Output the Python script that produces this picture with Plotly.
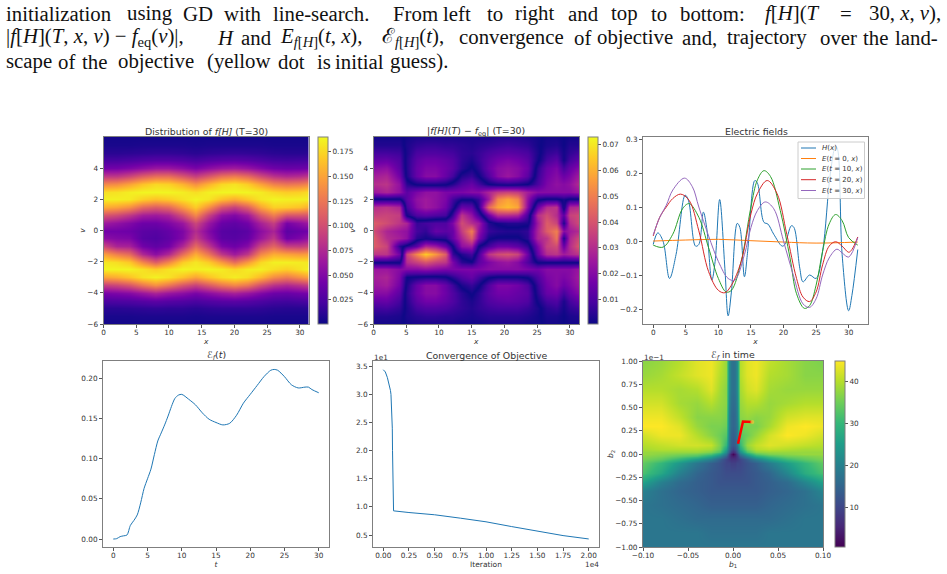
import numpy as np
import plotly.graph_objects as go

W, H = 947, 574
TEXT = "#333333"
SPINE = "#7f7f7f"
FONT = "DejaVu Sans"

# ---- distribution f[H] at T=30, in thousandths; rows run from v=6 down to v=-6
F_X = [0, 2, 4, 6, 8, 10, 12, 14, 16, 18, 20, 22, 24, 26, 28, 30, 31.4]
V_LEVELS = [6 - 0.5 * i for i in range(25)]
F_MILLI = [
    [3, 3, 3, 3, 3, 3, 3, 3, 3, 3, 3, 3, 3, 3, 3, 3, 3],
    [5, 5, 5, 6, 6, 6, 6, 5, 6, 6, 6, 6, 6, 5, 5, 5, 5],
    [11, 11, 12, 13, 14, 14, 13, 11, 13, 14, 15, 14, 13, 11, 10, 10, 11],
    [22, 22, 24, 27, 29, 29, 27, 23, 27, 30, 31, 29, 25, 21, 20, 21, 22],
    [42, 43, 48, 55, 62, 62, 55, 46, 55, 63, 66, 60, 50, 41, 38, 39, 42],
    [85, 85, 95, 110, 120, 120, 105, 90, 105, 122, 128, 118, 98, 82, 75, 78, 85],
    [135, 138, 150, 165, 175, 172, 158, 140, 158, 175, 180, 170, 150, 132, 125, 128, 135],
    [178, 180, 185, 188, 188, 188, 185, 178, 186, 188, 188, 188, 184, 175, 170, 172, 178],
    [186, 186, 184, 172, 165, 170, 180, 188, 182, 165, 155, 168, 182, 188, 186, 186, 186],
    [155, 150, 140, 118, 110, 118, 145, 170, 140, 105, 92, 112, 150, 172, 170, 165, 155],
    [105, 98, 85, 68, 65, 72, 100, 135, 92, 58, 50, 65, 105, 130, 105, 105, 105],
    [65, 58, 50, 40, 40, 48, 62, 95, 62, 38, 34, 42, 70, 90, 45, 55, 65],
    [42, 42, 40, 32, 30, 36, 48, 78, 50, 30, 28, 32, 55, 72, 32, 38, 42],
    [55, 50, 48, 30, 27, 34, 50, 88, 58, 32, 30, 36, 62, 85, 40, 48, 60],
    [95, 72, 70, 42, 34, 42, 75, 118, 85, 48, 40, 52, 95, 115, 90, 88, 95],
    [148, 130, 118, 75, 55, 75, 120, 155, 125, 85, 65, 85, 135, 155, 150, 145, 148],
    [182, 178, 168, 135, 110, 135, 170, 182, 170, 145, 120, 145, 175, 186, 186, 184, 182],
    [188, 188, 188, 180, 170, 180, 188, 186, 188, 184, 175, 184, 186, 178, 172, 180, 188],
    [150, 155, 165, 180, 187, 180, 165, 150, 165, 178, 185, 178, 160, 138, 128, 140, 150],
    [90, 95, 105, 125, 140, 125, 105, 92, 108, 125, 135, 125, 100, 82, 75, 82, 90],
    [45, 48, 52, 62, 72, 62, 55, 46, 55, 64, 70, 62, 50, 40, 38, 42, 45],
    [24, 25, 26, 29, 32, 29, 27, 24, 27, 30, 31, 29, 25, 21, 20, 22, 24],
    [11, 11, 12, 13, 14, 13, 13, 11, 13, 14, 14, 14, 13, 11, 10, 10, 11],
    [5, 5, 5, 6, 6, 6, 6, 5, 6, 6, 6, 6, 6, 5, 5, 5, 5],
    [3, 3, 3, 3, 3, 3, 3, 3, 3, 3, 3, 3, 3, 3, 3, 3, 3],
]

# ---- signed deviation f[H] - f_eq in thousandths, same v rows
D_X = [0, 2, 4, 5, 6.5, 8, 9.5, 11, 12, 13.5, 15, 16, 17.5, 19, 20.5, 22, 23.5, 25, 26.5, 28, 29, 30, 31.4]
DEV_MILLI = [
    [-1, -1, -1, 1, 2, 2, 2, 2, 2, 2, 2, 2, 2, 3, 3, 3, 2, 1, -1, -1, 0, -1, -1],
    [-3, -3, -3, 2, 5, 6, 6, 5, 5, 4, 3, 4, 5, 6, 7, 6, 5, 1, -2, -3, 0, -3, -3],
    [-8, -8, -7, 2, 9, 10, 10, 9, 8, 5, 4, 6, 9, 11, 12, 11, 9, 2, -5, -7, -1, -5, -8],
    [-13, -14, -10, 3, 12, 15, 15, 13, 11, 5, 2, 6, 12, 16, 18, 16, 12, 1, -8, -12, -1, -8, -13],
    [-20, -22, -12, 3, 14, 18, 18, 15, 12, 4, -1, 4, 14, 20, 22, 20, 15, -4, -14, -18, -8, -14, -20],
    [-26, -28, -16, 2, 14, 20, 20, 14, 8, -3, -6, 0, 10, 20, 24, 20, 12, -6, -16, -20, -15, -18, -26],
    [-30, -32, -22, -4, 1, 2, 2, 1, -3, -10, -14, -8, 0, 2, 3, 2, 0, -9, -18, -22, -20, -22, -30],
    [-24, -28, -22, -12, -18, -22, -22, -18, -18, -18, -20, -20, -28, -34, -36, -34, -26, -20, -20, -20, -20, -20, -24],
    [1, 1, 1, -12, -22, -25, -22, -18, -8, -1, -1, -6, -25, -52, -58, -52, -22, -2, 1, 1, -2, 1, 1],
    [30, 32, 28, -8, -20, -25, -22, -16, -4, 14, 12, -4, -45, -58, -62, -58, -20, 14, 30, 32, -3, 28, 30],
    [35, 36, 34, -1, -10, -12, -10, -8, 6, 32, 22, 8, -15, -30, -30, -28, -8, 30, 38, 30, 12, 35, 38],
    [42, 38, 32, 28, 6, 8, 10, 10, 18, 38, 30, 25, 3, -1, -3, -3, -2, 25, 42, 36, 2, 30, 38],
    [38, 28, 24, 22, 8, 5, 14, 12, 14, 34, 50, 22, 6, 4, 3, 3, 5, 28, 42, 50, 20, 25, 30],
    [42, 30, 26, 22, 4, 1, 3, 4, 14, 28, 42, 18, 1, -1, -1, -1, 4, 28, 32, 48, 2, 28, 38],
    [42, 36, 4, -3, -12, -28, -24, -14, 0, 22, 25, 0, -8, -15, -15, -12, -5, 18, 35, 38, 14, 30, 42],
    [32, 32, 16, -35, -52, -65, -55, -42, -6, 3, 8, -8, -32, -38, -40, -36, -15, 14, 30, 32, 25, 28, 32],
    [1, 1, 1, -30, -35, -40, -35, -32, -18, -4, -1, -12, -18, -22, -24, -20, -10, 1, 1, 1, 1, 1, 1],
    [-24, -24, -20, -20, -20, -22, -20, -18, -18, -18, -18, -18, -20, -20, -20, -20, -18, -16, -20, -20, -20, -20, -24],
    [-26, -28, -18, 0, 1, 2, 2, 1, -4, -10, -14, -8, -1, 1, 1, 1, -1, -10, -18, -20, -18, -20, -26],
    [-24, -26, -16, 2, 14, 20, 20, 14, 7, -2, -6, -1, 10, 18, 18, 16, 10, -6, -16, -20, -15, -18, -24],
    [-20, -20, -12, 4, 15, 20, 20, 15, 10, 4, -1, 4, 12, 16, 16, 14, 12, -4, -14, -16, -8, -14, -20],
    [-13, -14, -8, 3, 12, 16, 16, 13, 10, 5, 2, 5, 10, 12, 13, 12, 10, -1, -8, -10, -2, -8, -13],
    [-7, -8, -5, 2, 8, 10, 10, 9, 7, 5, 3, 5, 7, 8, 8, 8, 6, 2, -4, -6, -1, -5, -7],
    [-3, -3, -2, 2, 4, 5, 5, 4, 4, 3, 2, 3, 4, 4, 4, 4, 3, 1, -2, -2, 0, -2, -3],
    [-1, -1, -1, 1, 2, 2, 2, 2, 2, 1, 1, 1, 2, 2, 2, 2, 1, 1, -1, -1, 0, -1, -1],
]

# ---- electric fields
H_X = [0, 0.7, 1.5, 2.5, 3.5, 4.9, 5.4, 6.5, 7, 7.7, 8.2, 9, 9.5, 10.2, 11, 11.5, 12, 12.9, 13.3, 14, 14.5,
       15.6, 16, 17, 17.6, 18.5, 19.8, 20.2, 21.2, 21.6, 22.5, 23, 24, 25, 26, 27.2, 28, 28.3, 29, 30, 30.5, 31.4]
H_Y = [-0.01, 0.024, 0.0, -0.11, -0.04, 0.135, 0.12, -0.015, -0.01, 0.085, 0.04, -0.115, -0.06, 0.122, -0.08,
       -0.22, -0.15, 0.052, 0.04, -0.105, -0.03, 0.178, 0.17, 0.055, 0.05, 0.02, -0.015, -0.01, 0.045, 0.04,
       -0.08, -0.12, -0.1, -0.11, -0.03, 0.2, 0.28, 0.27, -0.04, -0.205, -0.16, -0.025]
E0_X = [0, 5, 10, 15, 20, 25, 31.4]
E0_Y = [0.0, 0.003, 0.005, 0.001, -0.003, -0.006, -0.003]
E10_X = [0, 1.5, 3, 4.5, 5.5, 7, 8.5, 10, 11.2, 12, 13.5, 15, 16, 17, 18, 19.5, 21, 22, 23.2, 24, 25, 26, 27, 28, 29, 30, 31.4]
E10_Y = [-0.012, -0.018, 0.02, 0.095, 0.11, 0.07, -0.02, -0.11, -0.15, -0.145, -0.06, 0.1, 0.18, 0.207, 0.19, 0.09,
         -0.05, -0.155, -0.198, -0.19, -0.13, -0.03, 0.05, 0.078, 0.06, 0.01, -0.012]
E20_X = [0, 1, 2, 3, 4.2, 5.5, 7, 8.5, 10, 11, 12, 13.5, 15, 16, 17.5, 19, 20.5, 22, 23, 24, 25, 26, 27, 28, 29, 30, 30.5, 31.4]
E20_Y = [0.015, 0.07, 0.1, 0.125, 0.138, 0.12, 0.03, -0.09, -0.145, -0.152, -0.13, -0.06, 0.08, 0.14, 0.178, 0.14, 0.02,
         -0.11, -0.165, -0.178, -0.15, -0.07, -0.015, -0.002, -0.015, -0.033, -0.025, 0.012]
E30_X = [0, 1, 2, 3, 4.8, 6, 7, 8.5, 10, 11.5, 12.5, 14, 15, 16, 17.2, 18.5, 20, 21.5, 23, 24, 25, 26, 27, 28.2, 29, 30, 31.4]
E30_Y = [0.018, 0.07, 0.105, 0.15, 0.185, 0.16, 0.1, 0.015, -0.06, -0.11, -0.115, -0.04, 0.04, 0.09, 0.115, 0.095, 0.0,
         -0.1, -0.185, -0.195, -0.17, -0.1, -0.05, -0.024, -0.035, -0.047, 0.01]
FIELD_NAMES = ["<i>H</i>(<i>x</i>)", "<i>E</i>(<i>t</i> = 0, <i>x</i>)", "<i>E</i>(<i>t</i> = 10, <i>x</i>)",
               "<i>E</i>(<i>t</i> = 20, <i>x</i>)", "<i>E</i>(<i>t</i> = 30, <i>x</i>)"]
FIELD_COLORS = ["#1f77b4", "#ff7f0e", "#2ca02c", "#d62728", "#9467bd"]

# ---- objective over time
T_VALUES = [0, 0.5, 1, 1.5, 2, 2.5, 3, 3.5, 4, 4.5, 5, 5.5, 6, 6.5, 7, 7.5, 8, 8.5, 9, 9.5, 10, 11, 12, 13, 14, 15, 16,
            17, 18, 19, 20, 21, 22, 23, 23.5, 24, 25, 26, 27, 28, 28.5, 29, 30]
EF_VALUES = [0, 0.0005, 0.003, 0.004, 0.005, 0.017, 0.023, 0.03, 0.045, 0.063, 0.075, 0.087, 0.105, 0.122, 0.132, 0.142,
             0.153, 0.165, 0.175, 0.179, 0.18, 0.174, 0.167, 0.157, 0.149, 0.145, 0.142, 0.144, 0.154, 0.169, 0.18, 0.191,
             0.202, 0.21, 0.211, 0.21, 0.202, 0.192, 0.188, 0.189, 0.189, 0.186, 0.182]

# ---- convergence, iteration in units of 1e4 and objective in units of 1e1
ITERATION = [0, 0.02, 0.04, 0.06, 0.07, 0.075, 0.08, 0.085, 0.088, 0.09, 0.093, 0.096, 0.1, 0.25, 0.5, 0.75, 1.0, 1.25, 1.5, 1.75, 2.0]
OBJECTIVE = [3.44, 3.4, 3.3, 3.17, 3.07, 3.0, 2.8, 2.6, 2.4, 2.0, 1.6, 1.2, 0.93, 0.9, 0.86, 0.8, 0.735, 0.65, 0.565, 0.49, 0.43]

# ---- landscape over (b1, b2), b2 in units of 1e-1; rows run from the top of the axis down
B1 = [-0.1, -0.08, -0.06, -0.04, -0.025, -0.015, -0.008, -0.004, -0.002, 0, 0.002, 0.004, 0.008, 0.015, 0.025, 0.04, 0.06, 0.08, 0.1]
B2 = [1.0, 0.85, 0.7, 0.55, 0.4, 0.3, 0.2, 0.1, 0.05, 0.02, 0, -0.02, -0.05, -0.1, -0.2, -0.3, -0.4, -0.55, -0.7, -0.85, -1.0]
LANDSCAPE = [
    [37, 38, 40, 43, 44, 41, 38, 22, 18, 17, 18, 22, 40, 43, 44, 41, 39, 37, 36],
    [38, 39, 41, 43, 44, 40, 38, 22, 18, 17, 18, 22, 40, 43, 44, 40, 39, 37, 37],
    [40, 40, 39, 40, 43, 39, 37, 22, 18, 17, 18, 22, 39, 42, 43, 39, 38, 38, 38],
    [42, 42, 39, 38, 40, 38, 37, 21, 17, 16, 17, 21, 38, 40, 40, 38, 39, 40, 40],
    [44, 44, 41, 37, 37, 37, 36, 20, 16, 15, 16, 20, 37, 38, 37, 38, 42, 43, 43],
    [45, 45, 43, 38, 36, 36, 35, 20, 16, 15, 16, 19, 35, 36, 36, 39, 44, 45, 44],
    [42, 44, 44, 40, 37, 35, 33, 19, 15, 14, 15, 19, 33, 35, 38, 42, 45, 44, 42],
    [40, 41, 42, 42, 41, 36, 30, 18, 14, 13, 14, 18, 30, 38, 41, 43, 42, 41, 40],
    [39, 40, 40, 40, 39, 35, 26, 16, 12, 10, 12, 16, 27, 36, 40, 41, 40, 39, 39],
    [38, 38, 38, 38, 36, 32, 22, 13, 8, 6, 8, 13, 22, 32, 37, 38, 38, 38, 38],
    [38, 37, 36, 35, 32, 26, 18, 9, 4, 1, 4, 9, 18, 26, 33, 36, 37, 38, 38],
    [37, 36, 34, 32, 27, 21, 14, 8, 5, 4, 5, 8, 14, 21, 28, 32, 35, 36, 37],
    [36, 34, 30, 25, 20, 14, 10, 8, 7, 7, 7, 8, 10, 14, 20, 26, 31, 34, 36],
    [34, 30, 24, 18, 14, 12, 10, 10, 9, 9, 9, 10, 10, 12, 14, 19, 25, 30, 34],
    [32, 27, 20, 15, 13, 12, 11, 11, 11, 11, 11, 11, 11, 12, 13, 15, 21, 28, 32],
    [26, 20, 16, 14, 13, 12, 12, 12, 12, 12, 12, 12, 12, 12, 13, 14, 16, 21, 26],
    [20, 17, 15, 14, 13, 13, 13, 13, 13, 13, 13, 13, 13, 13, 13, 14, 15, 17, 21],
    [18, 17, 16, 15, 14, 14, 14, 14, 14, 14, 14, 14, 14, 14, 14, 15, 16, 17, 18],
    [18, 18, 17, 16, 16, 16, 16, 16, 16, 16, 16, 16, 16, 16, 16, 16, 17, 18, 18],
    [18, 18, 18, 18, 17, 17, 17, 17, 17, 17, 17, 17, 17, 17, 17, 18, 18, 18, 18],
    [18, 18, 18, 18, 18, 18, 18, 18, 18, 18, 18, 18, 18, 18, 18, 18, 18, 18, 18],
]
TRAJ_B1 = [0.0215, 0.0111, 0.0056]
TRAJ_B2 = [0.345, 0.35, 0.11]

# ---- caption, set word by word so each line stays justified: (text, left px)
CAPTION_LINE_1 = [("initialization", 6), ("using", 127), ("GD", 183), ("with", 224), ("line-search.", 273),
                  ("From", 393), ("left", 443), ("to", 487), ("right", 515), ("and", 568), ("top", 611), ("to", 651),
                  ("bottom:", 680), ("<i>f</i>[<i>H</i>](<i>T</i>", 765), ("=", 840),
                  ("30, <i>x</i>, <i>v</i>),", 869)]
CAPTION_LINE_2 = [("|<i>f</i>[<i>H</i>](<i>T</i>, <i>x</i>, <i>v</i>) − <i>f</i><sub>eq</sub>(<i>v</i>)|,", 6),
                  ("<i>H</i>", 217), ("and", 241), ("<i>E</i><sub><i>f</i>[<i>H</i>]</sub>(<i>t</i>, <i>x</i>),", 280),
                  ("ℰ<sub><i>f</i>[<i>H</i>]</sub>(<i>t</i>),", 382), ("convergence", 459), ("of", 574),
                  ("objective", 597), ("and,", 682), ("trajectory", 727), ("over", 820), ("the", 863), ("land-", 895)]
CAPTION_LINE_3 = [("scape", 6), ("of", 58), ("the", 82), ("objective", 118), ("(yellow", 207), ("dot", 278),
                  ("is", 317), ("initial", 335), ("guess).", 390)]

def xdom(a, b):
    return [a / W, b / W]

def ydom(top, bottom):
    return [1 - bottom / H, 1 - top / H]

def axis(dom, **kw):
    base = dict(domain=dom, showgrid=False, zeroline=False, showline=True, mirror=True, linecolor=SPINE,
                linewidth=1, ticks="outside", ticklen=3, tickwidth=1, tickcolor="#555555",
                tickfont=dict(size=7.3, color=TEXT, family=FONT), title_font=dict(size=7.5, color=TEXT, family=FONT))
    base.update(kw)
    return base

def colorbar(left, top, bottom, **kw):
    return dict(thickness=10, thicknessmode="pixels", x=left / W, xanchor="left", xpad=0, ypad=0,
                y=1 - bottom / H, yanchor="bottom", len=(bottom - top) / H, lenmode="fraction",
                outlinecolor=SPINE, outlinewidth=1, ticks="outside", ticklen=3, tickcolor="#555555",
                tickfont=dict(size=7.3, color=TEXT, family=FONT), **kw)

# plasma mirrored about zero, so the interpolated signed field shows |f - f_eq| with dark zero contours
PLASMA = ["#0d0887", "#46039f", "#7201a8", "#9c179e", "#bd3786", "#d8576b", "#ed7953", "#fb9f3a", "#fdca26", "#f0f921"]
MIRRORED = [[0.5 - 0.5 * k / 9, c] for k, c in reversed(list(enumerate(PLASMA)))] + \
           [[0.5 + 0.5 * k / 9, c] for k, c in list(enumerate(PLASMA))[1:]]

v_up = V_LEVELS[::-1]
f_grid = np.array(F_MILLI[::-1]) / 1000
dev_grid = np.array(DEV_MILLI[::-1]) / 1000
land_grid = LANDSCAPE[::-1]
b2_up = B2[::-1]

fig = go.Figure()
fig.add_trace(go.Heatmap(x=F_X, y=v_up, z=f_grid, colorscale="Plasma", zmin=0.0004, zmax=0.19, zsmooth="best",
                         xaxis="x", yaxis="y",
                         colorbar=colorbar(318, 137, 324, tickvals=[0.025, 0.05, 0.075, 0.1, 0.125, 0.15, 0.175],
                                           tickformat=".3f")))
fig.add_trace(go.Heatmap(x=D_X, y=v_up, z=np.abs(dev_grid), colorscale="Plasma", zmin=0.0005, zmax=0.073, zsmooth="best",
                         xaxis="x2", yaxis="y2",
                         colorbar=colorbar(588, 137, 324, tickvals=[0.01, 0.02, 0.03, 0.04, 0.05, 0.06, 0.07],
                                           tickformat=".2f")))
fig.add_trace(go.Heatmap(x=D_X, y=v_up, z=dev_grid, colorscale=MIRRORED, zmin=-0.073, zmax=0.073, zsmooth="best",
                         showscale=False, xaxis="x2", yaxis="y2"))

fields = [(H_X, H_Y), (E0_X, E0_Y), (E10_X, E10_Y), (E20_X, E20_Y), (E30_X, E30_Y)]
for (fx, fy), name, color in zip(fields, FIELD_NAMES, FIELD_COLORS):
    fig.add_trace(go.Scatter(x=fx, y=fy, mode="lines", name=name, showlegend=False, xaxis="x3", yaxis="y3",
                             line=dict(color=color, width=1, shape="spline", smoothing=1)))

fig.add_trace(go.Scatter(x=T_VALUES, y=EF_VALUES, mode="lines", showlegend=False, xaxis="x4", yaxis="y4",
                         line=dict(color="#1f77b4", width=1, shape="spline", smoothing=0.8)))
fig.add_trace(go.Scatter(x=ITERATION, y=OBJECTIVE, mode="lines", showlegend=False, xaxis="x5", yaxis="y5",
                         line=dict(color="#1f77b4", width=1)))
fig.add_trace(go.Heatmap(x=B1, y=b2_up, z=land_grid, colorscale="Viridis", zmin=0.5, zmax=45, zsmooth="best",
                         xaxis="x6", yaxis="y6",
                         colorbar=colorbar(835, 361, 547, tickvals=[10, 20, 30, 40])))
fig.add_trace(go.Scatter(x=TRAJ_B1, y=TRAJ_B2, mode="lines", showlegend=False, xaxis="x6", yaxis="y6",
                         line=dict(color="#ff0000", width=2.5)))
fig.add_trace(go.Scatter(x=TRAJ_B1[:1], y=TRAJ_B2[:1], mode="markers", showlegend=False, xaxis="x6", yaxis="y6",
                         marker=dict(color="rgba(225,200,60,0.8)", size=4)))

annotations = []

def text_at(text, x, y, size=7.3, anchor="center", color=TEXT, family=FONT, **kw):
    annotations.append(dict(text=text, x=x / W, y=1 - y / H, xref="paper", yref="paper", showarrow=False,
                            xanchor=anchor, yanchor="middle", xshift=0, borderpad=0, borderwidth=0,
                            font=dict(size=size, color=color, family=family), **kw))

for line, row in ((CAPTION_LINE_1, 13), (CAPTION_LINE_2, 37), (CAPTION_LINE_3, 61)):
    for word, left in line:
        text_at(word, left, row, size=20.8, anchor="left", color="#111111", family="Liberation Serif")

text_at("Distribution of <i>f[H]</i> (T=30)", 206, 131, size=9.4)
text_at("|<i>f[H]</i>(<i>T</i>) − <i>f</i><sub>eq</sub>| (T=30)", 476, 131, size=9.4)
text_at("Electric fields", 756, 131, size=9.4)
text_at("ℰ<sub><i>f</i></sub>(<i>t</i>)", 216, 355, size=9.4)
text_at("Convergence of Objective", 486, 355, size=9.4)
text_at("ℰ<sub><i>f</i></sub> in time", 733, 355, size=9.4)
text_at("1e1", 381, 357)
text_at("1e4", 592, 564)
text_at("1e−1", 654, 357)

# legend box for the field curves
shapes = [dict(type="rect", xref="paper", yref="paper", x0=798 / W, x1=864.5 / W, y0=1 - 198.5 / H, y1=1 - 142 / H,
               fillcolor="rgba(255,255,255,0.8)", line=dict(color="#cccccc", width=1), layer="above")]
for name, color, row in zip(FIELD_NAMES, FIELD_COLORS, [148, 158.5, 169, 179.7, 190.5]):
    shapes.append(dict(type="line", xref="paper", yref="paper", x0=801 / W, x1=816 / W, y0=1 - row / H, y1=1 - row / H,
                       line=dict(color=color, width=1), layer="above"))
    text_at(name, 822, row, size=7, anchor="left")

XT = dict(ticklabelstandoff=-2)
layout_axes = dict(
    xaxis=axis(xdom(103.5, 309), anchor="y", range=[0, 31.4], tickvals=[0, 5, 10, 15, 20, 25, 30],
               title=dict(text="<i>x</i>", standoff=1), **XT),
    yaxis=axis(ydom(137, 324), anchor="x", range=[-6, 6], tickvals=[-6, -4, -2, 0, 2, 4],
               title=dict(text="<i>v</i>", standoff=0)),
    xaxis2=axis(xdom(373.5, 579), anchor="y2", range=[0, 31.4], tickvals=[0, 5, 10, 15, 20, 25, 30],
                title=dict(text="<i>x</i>", standoff=1), **XT),
    yaxis2=axis(ydom(137, 324), anchor="x2", range=[-6, 6], tickvals=[-6, -4, -2, 0, 2, 4],
                title=dict(text="<i>v</i>", standoff=0)),
    xaxis3=axis(xdom(643, 868), anchor="y3", range=[-1.57, 32.97], tickvals=[0, 5, 10, 15, 20, 25, 30],
                title=dict(text="<i>x</i>", standoff=1), **XT),
    yaxis3=axis(ydom(137, 324), anchor="x3", range=[-0.244, 0.306], tickvals=[-0.2, -0.1, 0, 0.1, 0.2, 0.3],
                tickformat=".1f"),
    xaxis4=axis(xdom(103, 329), anchor="y4", range=[-1.5, 31.5], tickvals=[0, 5, 10, 15, 20, 25, 30],
                title=dict(text="<i>t</i>", standoff=1), **XT),
    yaxis4=axis(ydom(361, 547), anchor="x4", range=[-0.0099, 0.2215], tickvals=[0, 0.05, 0.1, 0.15, 0.2],
                tickformat=".2f"),
    xaxis5=axis(xdom(373, 599), anchor="y5", range=[-0.1, 2.1], dtick=0.25, tick0=0, tickformat=".2f",
                title=dict(text="Iteration", standoff=1), **XT),
    yaxis5=axis(ydom(361, 547), anchor="x5", range=[0.287, 3.595], dtick=0.5, tick0=0.5, tickformat=".1f"),
    xaxis6=axis(xdom(643, 823), anchor="y6", range=[-0.1, 0.1], dtick=0.05, tick0=0, tickformat=".2f",
                title=dict(text="<i>b</i><sub>1</sub>", standoff=1), **XT),
    yaxis6=axis(ydom(361, 547), anchor="x6", range=[-1, 1], dtick=0.25, tick0=0, tickformat=".2f",
                title=dict(text="<i>b</i><sub>2</sub>", standoff=0)),
)

fig.update_layout(width=W, height=H, margin=dict(l=0, r=0, t=0, b=0, autoexpand=False), paper_bgcolor="white",
                  plot_bgcolor="white", showlegend=False, annotations=annotations, shapes=shapes,
                  font=dict(family=FONT, color=TEXT), **layout_axes)
fig.write_html("out.html", config=dict(displayModeBar=False))
